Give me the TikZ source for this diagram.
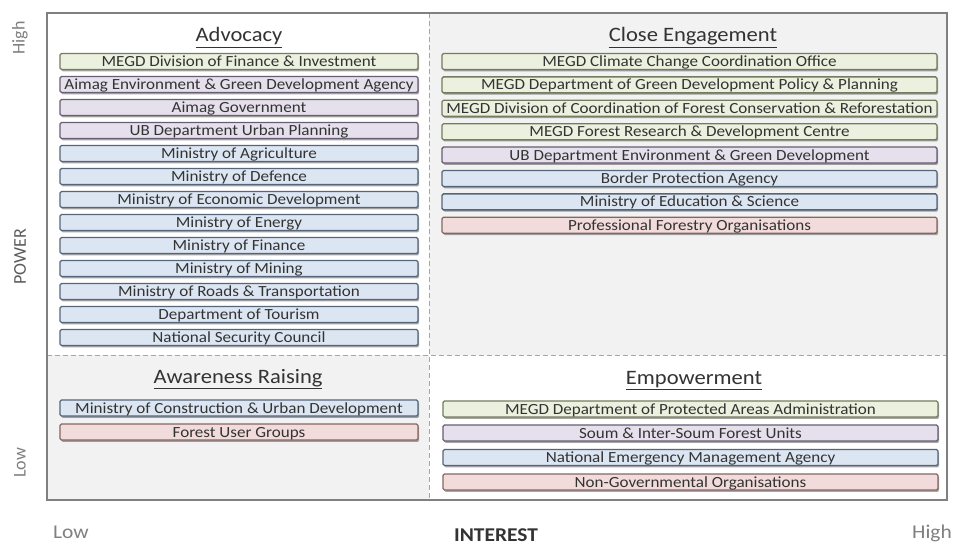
\documentclass[tikz,border=0pt]{standalone}
\usepackage{fontspec}
\setmainfont{Carlito}[FakeStretch=1.1]
\newfontfamily\axisfont{Carlito}
\usetikzlibrary{shadows}

\definecolor{quadgray}{HTML}{F2F2F2}
\definecolor{framegray}{HTML}{808080}
\definecolor{dashgray}{HTML}{A6A6A6}
\definecolor{txt}{HTML}{333333}
\definecolor{greenfill}{HTML}{EBF1DE}
\definecolor{greendraw}{HTML}{747B5E}
\definecolor{purplefill}{HTML}{E6E0EC}
\definecolor{purpledraw}{HTML}{675E74}
\definecolor{bluefill}{HTML}{DCE6F2}
\definecolor{bluedraw}{HTML}{55667B}
\definecolor{redfill}{HTML}{F2DCDB}
\definecolor{reddraw}{HTML}{866565}

\tikzset{
  entry/.style={draw, rounded corners=1.5pt, line width=1.3pt,
    minimum height=16pt, inner sep=0pt, text height=12pt, text depth=2pt,
    font=\fontsize{15.5}{16}\selectfont, text=txt,
    drop shadow={shadow xshift=1.2pt, shadow yshift=-1.8pt, fill=black, opacity=0.35}},
  lcol/.style={entry, minimum width=358pt},
  rcol/.style={entry, minimum width=495pt},
  megd/.style={fill=greenfill, draw=greendraw},
  local/.style={fill=purplefill, draw=purpledraw},
  govt/.style={fill=bluefill, draw=bluedraw},
  civil/.style={fill=redfill, draw=reddraw},
  quadtitle/.style={anchor=base, inner sep=0pt, text=txt,
    font=\fontsize{20.5}{22}\selectfont},
  divider/.style={draw=dashgray, line width=1pt, dash pattern=on 5pt off 3pt},
  frame/.style={draw=framegray, line width=2pt},
  axislabel/.style={inner sep=0pt, text=framegray, font=\axisfont\fontsize{18}{20}\selectfont},
}

\begin{document}
\begin{tikzpicture}[x=1pt, y=-1pt]
\useasboundingbox (0,0) rectangle (955,545);
\fill[white] (0,0) rectangle (955,545);

% quadrant shading
\fill[quadgray] (429,13) rectangle (947,355);
\fill[quadgray] (46.5,355) rectangle (429,500);

% quadrant dividers and outer frame
\draw[divider] (429,13) -- (429,500);
\draw[divider] (46.5,355) -- (947,355);
\draw[frame] (46.5,13) rectangle (947,500);

% quadrant titles
\node[quadtitle] (tAdv) at (239,42) {\underline{Advocacy}};
\node[quadtitle] (tClose) at (693,42) {\underline{Close Engagement}};
\node[quadtitle] (tAware) at (238,383) {\underline{Awareness Raising}};
\node[quadtitle] (tEmp) at (694,384) {\underline{Empowerment}};

% Advocacy
\node[lcol, megd]  (a1)  at (239,61.5)  {MEGD Division of Finance \& Investment};
\node[lcol, local] (a2)  at (239,84.5)  {Aimag Environment \& Green Development Agency};
\node[lcol, local] (a3)  at (239,107.5) {Aimag Government};
\node[lcol, local] (a4)  at (239,130.5) {UB Department Urban Planning};
\node[lcol, govt]  (a5)  at (239,153.5) {Ministry of Agriculture};
\node[lcol, govt]  (a6)  at (239,176.5) {Ministry of Defence};
\node[lcol, govt]  (a7)  at (239,199.5) {Ministry of Economic Development};
\node[lcol, govt]  (a8)  at (239,222.5) {Ministry of Energy};
\node[lcol, govt]  (a9)  at (239,245.5) {Ministry of Finance};
\node[lcol, govt]  (a10) at (239,268.5) {Ministry of Mining};
\node[lcol, govt]  (a11) at (239,291.5) {Ministry of Roads \& Transportation};
\node[lcol, govt]  (a12) at (239,314.5) {Department of Tourism};
\node[lcol, govt]  (a13) at (239,337.5) {National Security Council};

% Close Engagement
\node[rcol, megd]  (c1) at (689.5,61.5)  {MEGD Climate Change Coordination Office};
\node[rcol, megd]  (c2) at (689.5,84.9)  {MEGD Department of Green Development Policy \& Planning};
\node[rcol, megd]  (c3) at (689.5,108.3) {MEGD Division of Coordination of Forest Conservation \& Reforestation};
\node[rcol, megd]  (c4) at (689.5,131.7) {MEGD Forest Research \& Development Centre};
\node[rcol, local] (c5) at (689.5,155.1) {UB Department Environment \& Green Development};
\node[rcol, govt]  (c6) at (689.5,178.5) {Border Protection Agency};
\node[rcol, govt]  (c7) at (689.5,201.9) {Ministry of Education \& Science};
\node[rcol, civil] (c8) at (689.5,225.3) {Professional Forestry Organisations};

% Awareness Raising
\node[lcol, govt]  (w1) at (239,408) {Ministry of Construction \& Urban Development};
\node[lcol, civil] (w2) at (239,432) {Forest User Groups};

% Empowerment
\node[rcol, megd]  (e1) at (690.5,409)   {MEGD Department of Protected Areas Administration};
\node[rcol, local] (e2) at (690.5,433)   {Soum \& Inter-Soum Forest Units};
\node[rcol, govt]  (e3) at (690.5,457.5) {National Emergency Management Agency};
\node[rcol, civil] (e4) at (690.5,482)   {Non-Governmental Organisations};

% axis labels
\node[axislabel, rotate=90] (pHigh) at (20,38) {High};
\node[axislabel, rotate=90, text=txt!80!white] (pAxis) at (20,257) {POWER};
\node[axislabel, rotate=90] (pLow) at (20,463) {Low};
\node[axislabel, anchor=base west, font=\fontsize{19.5}{21}\selectfont] (iLow) at (53,538) {Low};
\node[axislabel, anchor=base, text=txt, font=\bfseries\fontsize{19.5}{21}\selectfont] (iAxis) at (496,541) {INTEREST};
\node[axislabel, anchor=base east, font=\fontsize{19.5}{21}\selectfont] (iHigh) at (952,538) {High};
\end{tikzpicture}
\end{document}
